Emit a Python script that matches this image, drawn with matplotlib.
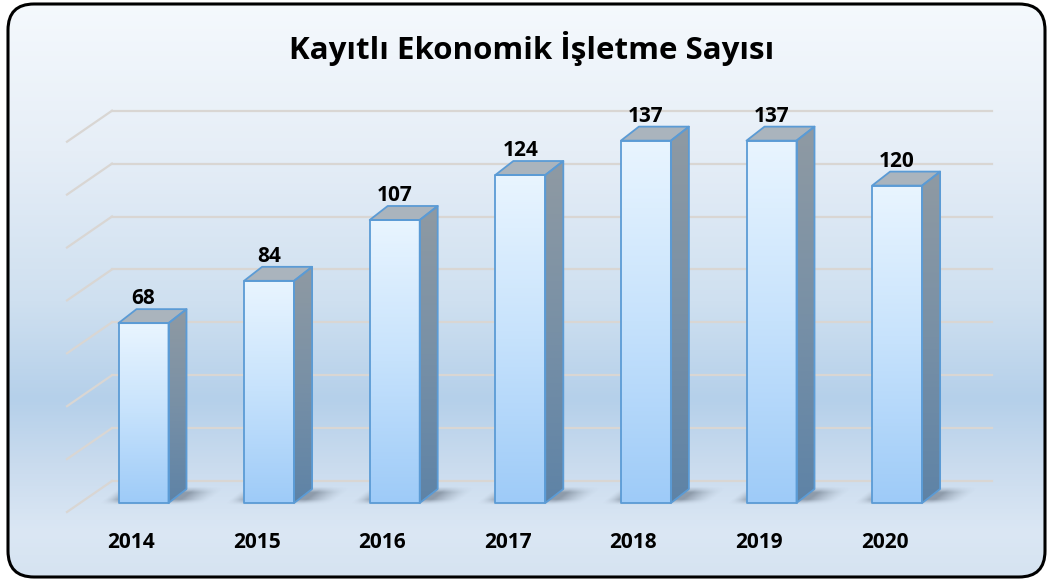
import numpy as np
import matplotlib.pyplot as plt
from matplotlib.patches import Polygon, FancyBboxPatch
from matplotlib.colors import LinearSegmentedColormap, to_rgb

years = ["2014", "2015", "2016", "2017", "2018", "2019", "2020"]
values = [68, 84, 107, 124, 137, 137, 120]
grid_values = [0, 20, 40, 60, 80, 100, 120, 140]
title = "Kayıtlı Ekonomik İşletme Sayısı"

W, H = 1048, 579
fig = plt.figure(figsize=(W / 100, H / 100), dpi=100)
font = "Open Sans"

# background panel with rounded frame
bg = fig.add_axes([0, 0, 1, 1])
bg.set_xlim(0, W)
bg.set_ylim(H, 0)
bg.axis("off")
stops = [(0, "#f5f9fd"), (0.26, "#e6eef7"), (0.52, "#cfe0f0"), (0.69, "#b5d0ea"),
         (0.8, "#c9dbee"), (0.92, "#dbe7f4"), (1, "#d5e3f1")]
bg_cmap = LinearSegmentedColormap.from_list("bg", stops)
im = bg.imshow(np.linspace(0, 1, 256).reshape(-1, 1), cmap=bg_cmap,
               extent=(0, W, H, 0), aspect="auto")
frame = FancyBboxPatch((8, 4), 1037, 573, boxstyle="round,pad=0,rounding_size=26",
                       fc="none", ec="black", lw=2.2, zorder=5)
bg.add_patch(frame)
im.set_clip_path(frame)
bg.text(532, 48, title, ha="center", va="center", fontsize=22.5,
        fontweight="bold", family=font)

# chart axes: x in category units, y in value units (oblique 3D look)
px_x, px_y = 125.6, 2.645
x0, y0 = 143.5, 503
ax = fig.add_axes([0, 0, 1, 1])
ax.patch.set_alpha(0)
ax.axis("off")

bw = 50 / px_x
ddx, ddy = 18 / px_x, 14 / px_y
wall_x0, wall_x1, wall_dy = -31.5 / px_x, 848.5 / px_x, 22 / px_y
floor_x, floor_dy = -76.5 / px_x, -9 / px_y

grid_col = "#d9d6d3"
for g in grid_values:
    ax.plot([wall_x0, wall_x1], [g + wall_dy, g + wall_dy], color=grid_col, lw=1.6, zorder=1)
    ax.plot([floor_x, wall_x0], [g + floor_dy, g + wall_dy], color=grid_col, lw=1.6, zorder=1)

front_cmap = LinearSegmentedColormap.from_list("front", ["#9ecbf8", "#c6e2fc", "#e9f5ff"])
side_cmap = LinearSegmentedColormap.from_list("side", ["#5e83a6", "#7890a6", "#8f9aa3"])
col = np.linspace(0, 1, 128).reshape(-1, 1)
edge = "#5b9bd5"

def smooth(z):
    return np.clip(z, 0, 1) ** 1.5

for i, v in enumerate(values):
    l, r = i - bw / 2, i + bw / 2

    # soft floor shadow
    xs = np.linspace(i - 0.45, i + 0.65, 160)
    ys = np.linspace(-6, 12, 80)
    X, Y = np.meshgrid(xs, ys)
    t = Y / ddy
    u = X - i - t * ddx
    a = (smooth((u + bw / 2 + 0.16) / 0.14) * smooth((bw / 2 + 0.3 - u) / 0.24)
         * smooth((t + 0.15) / 0.4) * smooth((1.2 - t) / 0.45)) * 0.45
    rgba = np.zeros(X.shape + (4,))
    rgba[..., :3] = to_rgb("#3b4654")
    rgba[..., 3] = a
    ax.imshow(rgba, extent=(xs[0], xs[-1], ys[0], ys[-1]), origin="lower",
              aspect="auto", zorder=2, interpolation="bilinear")

    front = Polygon([(l, 0), (r, 0), (r, v), (l, v)], closed=True, fc="none", ec="none")
    side = Polygon([(r, 0), (r + ddx, ddy), (r + ddx, v + ddy), (r, v)], closed=True,
                   fc="none", ec="none")
    ax.add_patch(front)
    ax.add_patch(side)
    f_im = ax.imshow(col, cmap=front_cmap, extent=(l, r, 0, v), origin="lower",
                     aspect="auto", zorder=3)
    f_im.set_clip_path(front)
    s_im = ax.imshow(col, cmap=side_cmap, extent=(r, r + ddx, 0, v + ddy), origin="lower",
                     aspect="auto", zorder=3)
    s_im.set_clip_path(side)
    ax.add_patch(Polygon([(l, v), (r, v), (r + ddx, v + ddy), (l + ddx, v + ddy)],
                         closed=True, fc="#aab4bd", ec="none", zorder=3))

    for poly in ([(l, 0), (r, 0), (r, v), (l, v)],
                 [(r, 0), (r + ddx, ddy), (r + ddx, v + ddy), (r, v)],
                 [(l, v), (r, v), (r + ddx, v + ddy), (l + ddx, v + ddy)]):
        ax.add_patch(Polygon(poly, closed=True, fc="none", ec=edge, lw=1.3,
                             joinstyle="round", zorder=4))

    ax.text(i, v + ddy + 3.9, str(v), ha="center", va="center", fontsize=15,
            fontweight="bold", family=font, zorder=5)
    ax.text(i - 12.5 / px_x, (y0 - 543) / px_y, years[i], ha="center", va="center",
            fontsize=15, fontweight="bold", family=font, zorder=5)

ax.set_xlim(-x0 / px_x, (W - x0) / px_x)
ax.set_ylim(-(H - y0) / px_y, y0 / px_y)

fig.savefig("out.png", dpi=100)
